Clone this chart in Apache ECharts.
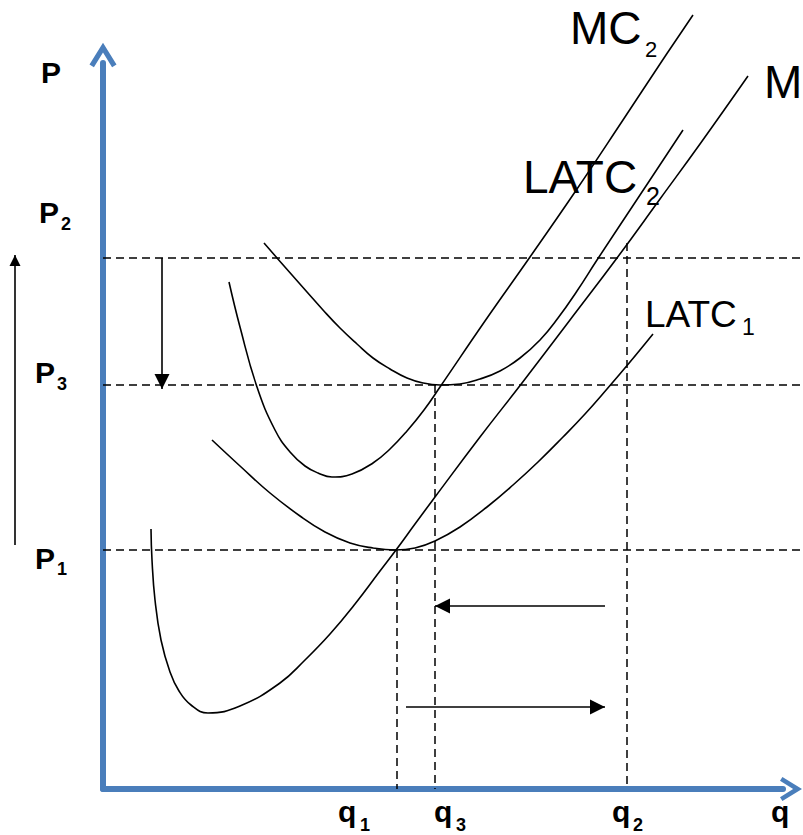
<!DOCTYPE html>
<html>
<head>
<meta charset="utf-8">
<script src="https://cdn.jsdelivr.net/npm/echarts@6/dist/echarts.min.js"></script>
<style>
html,body{margin:0;padding:0;background:#ffffff;}
#chart{width:803px;height:835px;}
</style>
</head>
<body>
<div id="chart"></div>
<script>
// ---- Data (x = quantity, y = price; origin at the corner of the axes) ----
const mc1 = [[48,260],[49,229],[52,189],[58,149],[67,117],[76,98],[88,84],[105,76],[137,83],[177,106],[202,129],[227,155],[252,185],[277,218],[293,239],[312,265],[332,292],[377,352],[419,406],[467,469],[514,531],[557,590],[597,645],[645,713]];
const mc2 = [[126,507],[137,462],[154,402],[172,359],[187,337],[202,323],[215,316],[229,312],[249,315],[270,326],[287,340],[304,358],[321,379],[337,402],[382,468],[427,532],[474,600],[520,669],[557,725],[590,774]];
const latc1 = [[109,349],[137,323],[167,296],[197,273],[222,257],[247,246],[270,241],[292,239],[312,241],[332,248],[357,262],[384,282],[410,304],[435,327],[460,352],[482,375],[504,400],[527,427],[550,455]];
const latc2 = [[161,546],[174,531],[189,514],[204,497],[220,479],[237,461],[254,445],[270,431],[287,420],[304,411],[320,406],[337,404],[357,405],[377,410],[397,418],[417,431],[437,449],[455,471],[474,498],[494,529],[537,594],[580,659]];

const priceNames = ['P2','P3','P1'];
const priceValues = [531,404,239];
const qtyNames = ['q1','q3','q2'];
const qtyValues = [294,332,524];
const qtyGuideTops = [239,404,546];   // where each vertical guide meets its curve
const guideEnd = 700;                 // horizontal guides run past the q axis end

const arrowPriceUp = [[-88,244],[-88,534]];
const arrowPriceDown = [[59,531],[59,400]];
const arrowQtyLeft = [[502,183],[332,183]];
const arrowQtyRight = [[303,82],[502,82]];

const xMax = 680, yMax = 726;

// ---- Chart ----
const chart = echarts.init(document.getElementById('chart'), null, {renderer:'svg'});
const blue = '#4a7ebb';
const ink = '#000000';
const fam = '"Liberation Sans", Arial, Helvetica, sans-serif';
// open chevron used as the axis arrow heads
const chevron = 'path://M0,21 L13,0 L26,21 L21.75,23.6 L13,9.5 L4.25,23.6 Z';
// filled triangle whose tip sits at the symbol centre (square box so it scales evenly)
const headTip = 'path://M0,0 L0,0 M28,28 L28,28 M14,14 L21,28 L7,28 Z';

function curve(name, data) {
  return {
    name: name, type: 'line', data: data, smooth: 0.45, showSymbol: false,
    clip: false, silent: true,
    lineStyle: {color: ink, width: 1.6}
  };
}
function arrow(coords, size) {
  return {
    type: 'lines', coordinateSystem: 'cartesian2d', clip: false, silent: true,
    symbol: ['none', headTip], symbolSize: size,
    lineStyle: {color: ink, width: 1.6, opacity: 1, curveness: 0},
    itemStyle: {color: ink},
    data: [{coords: coords}]
  };
}
function txt(main, sub, x, y, size, subX, subY, subSize, weight) {
  const els = [{
    type: 'text', silent: true,
    style: {text: main, x: x, y: y, fill: ink, font: weight + ' ' + size + 'px ' + fam,
            textAlign: 'left', textVerticalAlign: 'middle'}
  }];
  if (sub) els.push({
    type: 'text', silent: true,
    style: {text: sub, x: subX, y: subY, fill: ink, font: weight + ' ' + subSize + 'px ' + fam,
            textAlign: 'left', textVerticalAlign: 'middle'}
  });
  return els;
}

const guides = priceValues.map(v => ({coords: [[0, v], [guideEnd, v]]}))
  .concat(qtyValues.map((v, i) => ({coords: [[v, qtyGuideTops[i]], [v, 0]]})));

const graphics = [].concat(
  txt('P', null, 41, 72.5, 30, 0, 0, 0, 'bold'),
  txt(priceNames[0].charAt(0), priceNames[0].slice(1), 39, 212.5, 30, 61, 224, 18, 'bold'),
  txt(priceNames[1].charAt(0), priceNames[1].slice(1), 35, 372.5, 30, 57, 384, 18, 'bold'),
  txt(priceNames[2].charAt(0), priceNames[2].slice(1), 35, 558, 30, 57, 569, 18, 'bold'),
  txt(qtyNames[0].charAt(0), qtyNames[0].slice(1), 338, 811, 30, 360, 825, 18, 'bold'),
  txt(qtyNames[1].charAt(0), qtyNames[1].slice(1), 434, 811, 30, 456, 825, 18, 'bold'),
  txt(qtyNames[2].charAt(0), qtyNames[2].slice(1), 612, 811, 30, 633, 825, 18, 'bold'),
  txt('q', null, 771, 811, 30, 0, 0, 0, 'bold'),
  txt('MC', '2', 570, 27.5, 46, 645, 49.5, 22, 'normal'),
  txt('MC', '1', 764, 81.5, 46, 840, 100, 22, 'normal'),
  txt('LATC', '2', 523, 176.5, 46, 646, 196, 25, 'normal'),
  txt('LATC', '1', 645, 314.5, 37, 742, 326.5, 23, 'normal')
);

chart.setOption({
  animation: false,
  backgroundColor: '#ffffff',
  grid: {left: 103, right: 20, top: 63, bottom: 46, containLabel: false},
  xAxis: {
    type: 'value', min: 0, max: xMax,
    axisLine: {show: true, onZero: false, symbol: ['none', chevron], symbolSize: [28, 22], symbolOffset: [0, 8],
               lineStyle: {color: blue, width: 6}},
    axisTick: {show: false}, axisLabel: {show: false}, splitLine: {show: false}
  },
  yAxis: {
    type: 'value', min: 0, max: yMax,
    axisLine: {show: true, onZero: false, symbol: ['none', chevron], symbolSize: [27, 26], symbolOffset: [0, 8],
               lineStyle: {color: blue, width: 6}},
    axisTick: {show: false}, axisLabel: {show: false}, splitLine: {show: false}
  },
  series: [
    {
      type: 'lines', coordinateSystem: 'cartesian2d', clip: false, silent: true,
      lineStyle: {color: ink, width: 1.5, type: [8, 5], opacity: 1, curveness: 0},
      symbol: ['none', 'none'],
      data: guides
    },
    curve('MC1', mc1),
    curve('MC2', mc2),
    curve('LATC1', latc1),
    curve('LATC2', latc2),
    arrow(arrowPriceUp, 22),
    arrow(arrowPriceDown, 30),
    arrow(arrowQtyLeft, 30),
    arrow(arrowQtyRight, 30)
  ],
  graphic: graphics
});
</script>
</body>
</html>
